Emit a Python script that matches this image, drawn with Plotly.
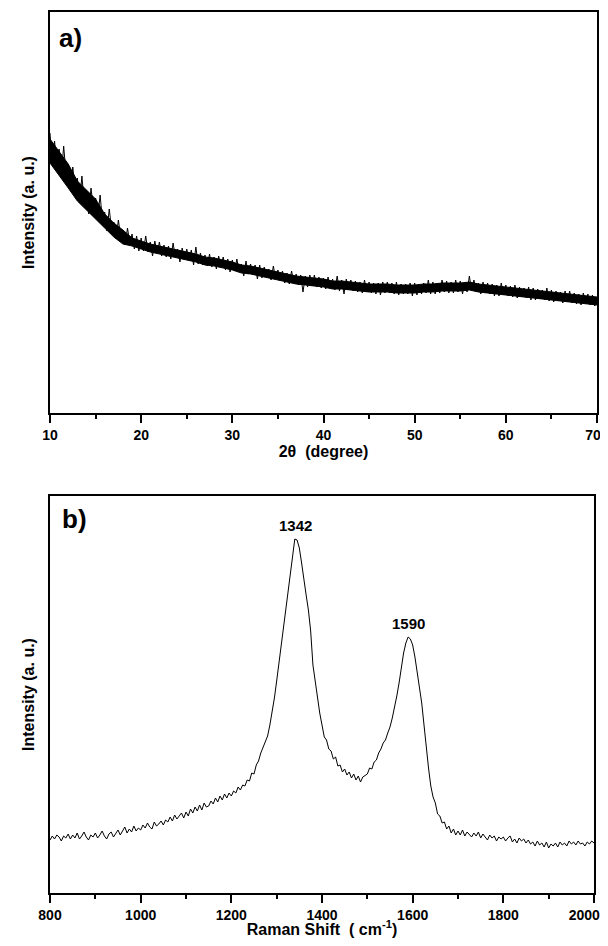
import plotly.graph_objects as go

# ---------------- data ----------------
# panel a) XRD: 2theta (degree) sampled every 0.25 degree, intensity (a. u.) read off the noisy trace
two_theta_start = 10
two_theta_step = 0.25
xrd_intensity = [
    280, 248, 272, 246, 264, 238, 267, 240, 249, 222, 246, 224,
    235, 212, 237, 210, 223, 199, 225, 204, 215, 196, 218, 192,
    201, 182, 204, 184, 191, 174, 193, 176, 183, 168, 185, 170,
    179, 164, 177, 162, 175, 162, 177, 161, 171, 157, 172, 160,
    171, 157, 168, 156, 167, 154, 170, 156, 164, 151, 165, 153,
    164, 152, 163, 148, 166, 149, 160, 148, 158, 147, 159, 146,
    156, 144, 157, 146, 156, 143, 154, 141, 153, 142, 154, 141,
    149, 137, 152, 139, 149, 138, 148, 134, 148, 135, 146, 136,
    144, 133, 147, 134, 143, 132, 142, 130, 140, 129, 142, 130,
    139, 128, 138, 121, 137, 126, 138, 127, 138, 126, 136, 125,
    135, 124, 136, 125, 134, 123, 137, 122, 133, 119, 134, 123,
    133, 122, 132, 121, 131, 120, 133, 121, 131, 120, 130, 119,
    130, 118, 131, 120, 131, 120, 130, 119, 131, 118, 129, 119,
    129, 119, 130, 117, 130, 118, 129, 119, 130, 120, 133, 119,
    131, 119, 130, 120, 133, 121, 132, 120, 131, 120, 133, 121,
    132, 119, 131, 121, 137, 122, 133, 121, 130, 119, 131, 120,
    130, 119, 129, 117, 128, 117, 130, 118, 128, 117, 127, 116,
    128, 115, 126, 116, 125, 115, 126, 113, 125, 113, 124, 114,
    123, 113, 125, 112, 123, 111, 122, 112, 121, 110, 122, 111,
    122, 110, 120, 109, 119, 108, 120, 109, 119, 108, 118, 107,
    114]
two_theta = [two_theta_start + i * two_theta_step for i in range(len(xrd_intensity))]

# dense dark core of the XRD trace, every 1 degree (upper / lower edge)
core_theta = list(range(10, 71))
core_upper = [274, 262, 249, 232, 223, 214, 199, 190, 183, 175,
              172, 169, 167, 165, 163, 161, 159, 156, 155, 153,
              151, 148, 147, 145, 143, 141, 139, 137, 136, 135,
              134, 132, 132, 131, 130, 129, 129, 129, 128, 128,
              128, 129, 129, 130, 130, 130, 131, 129, 128, 127,
              126, 125, 124, 123, 122, 121, 120, 119, 118, 117,
              116]
core_lower = [250, 238, 225, 212, 203, 194, 185, 176, 169, 167,
              164, 161, 159, 157, 155, 153, 151, 148, 147, 145,
              143, 140, 139, 137, 135, 133, 131, 129, 128, 127,
              126, 124, 124, 123, 122, 121, 121, 121, 120, 120,
              120, 121, 121, 122, 122, 122, 123, 121, 120, 119,
              118, 117, 116, 115, 114, 113, 112, 111, 110, 109,
              108]

# panel b) Raman: shift (cm-1) and intensity (a. u.)
raman_shift = list(range(800, 2001, 5))
raman_intensity = [
    53, 57, 54, 58, 56, 52, 57, 55, 59, 54,
    58, 55, 60, 54, 57, 61, 56, 53, 58, 56,
    60, 55, 58, 62, 57, 54, 59, 61, 56, 60,
    63, 58, 62, 66, 60, 64, 61, 67, 62, 65,
    63, 68, 65, 70, 66, 64, 71, 67, 69, 72,
    68, 73, 71, 76, 72, 78, 74, 77, 80, 75,
    81, 77, 84, 80, 86, 82, 88, 83, 90, 86,
    87, 92, 89, 95, 91, 97, 93, 99, 95, 100,
    97, 102, 100, 106, 103, 108, 107, 113, 112, 120,
    119, 128, 132, 140, 146, 150, 157, 168, 180, 195,
    212, 230, 250, 266, 283, 302, 321, 340, 354, 353,
    345, 330, 312, 298, 283, 262, 228, 210, 193, 180,
    168, 156, 153, 144, 142, 134, 136, 127, 128, 121,
    124, 118, 121, 115, 119, 113, 117, 111, 116, 118,
    119, 125, 124, 131, 133, 140, 144, 150, 153, 160,
    166, 175, 185, 197, 210, 225, 240, 250, 256, 254,
    248, 236, 222, 206, 190, 168, 145, 125, 107, 96,
    90, 79, 77, 70, 71, 64, 67, 60, 64, 58,
    62, 58, 63, 57, 61, 59, 56, 60, 57, 61,
    55, 59, 56, 53, 58, 55, 57, 52, 56, 54,
    56, 52, 55, 57, 51, 54, 50, 55, 52, 54,
    50, 53, 49, 51, 47, 52, 48, 50, 46, 51,
    45, 49, 47, 50, 46, 51, 48, 50, 47, 52,
    49, 51, 48, 52, 49, 50, 47, 51, 49, 52,
    50]

peak_positions = [1342, 1590]
peak_labels = ["1342", "1590"]

xrd_ticks = [10, 20, 30, 40, 50, 60, 70]
raman_ticks = [800, 1000, 1200, 1400, 1600, 1800, 2000]

# ---------------- figure ----------------
# the page body adds an 8 px margin on every side; keep the page within the window
OFF = 8
W, H = 608 - OFF, 946 - 2 * OFF
FONT = "Liberation Sans, Arial, sans-serif"
NBSP = "\u00a0"


def tick_texts(vals, pad_last):
    # the last label sits at the right edge of the page: pad it so it stays readable
    txt = [str(v) for v in vals]
    txt[-1] = txt[-1] + NBSP * pad_last
    return txt


fig = go.Figure()
fig.add_trace(go.Scatter(x=core_theta, y=core_lower, mode="lines",
                         line=dict(color="black", width=1),
                         xaxis="x", yaxis="y", hoverinfo="skip"))
fig.add_trace(go.Scatter(x=core_theta, y=core_upper, mode="lines",
                         fill="tonexty", fillcolor="black",
                         line=dict(color="black", width=1),
                         xaxis="x", yaxis="y", hoverinfo="skip"))
fig.add_trace(go.Scatter(x=two_theta, y=xrd_intensity, mode="lines",
                         line=dict(color="black", width=1),
                         xaxis="x", yaxis="y"))
fig.add_trace(go.Scatter(x=raman_shift, y=raman_intensity, mode="lines",
                         line=dict(color="black", width=1),
                         xaxis="x2", yaxis="y2"))


def px_x(p):
    return (p - OFF) / W


def px_y(p):
    return 1 - (p - OFF) / H


tickfont = dict(family=FONT, size=14, color="black", weight="bold")
titlefont = dict(family=FONT, size=16, color="black", weight="bold")

common_x = dict(showline=True, linecolor="black", linewidth=1.5, mirror=True,
                ticks="outside", ticklen=8, tickwidth=1.5, tickcolor="black",
                showgrid=False, zeroline=False, tickfont=tickfont, automargin=False,
                ticklabeloverflow="allow")
common_y = dict(showline=True, linecolor="black", linewidth=1.5, mirror=True,
                ticks="", showticklabels=False, showgrid=False, zeroline=False,
                automargin=False)

fig.update_layout(
    width=W, height=H, margin=dict(l=0, r=0, t=0, b=0),
    paper_bgcolor="white", plot_bgcolor="white", showlegend=False,
    xaxis=dict(common_x, domain=[px_x(50), px_x(597)], range=[10, 70],
               tickvals=xrd_ticks, ticktext=tick_texts(xrd_ticks, 2), anchor="y",
               minor=dict(ticks="outside", ticklen=4, tickwidth=1.5,
                          tickcolor="black", dtick=5, tick0=10),
               title=dict(text="2θ  (degree)", font=titlefont, standoff=4)),
    yaxis=dict(common_y, domain=[px_y(413), px_y(12)], range=[0, 401], anchor="x",
               title=dict(text="Intensity (a. u.)", font=titlefont, standoff=10)),
    xaxis2=dict(common_x, domain=[px_x(50), px_x(594)], range=[800, 2000],
                tickvals=raman_ticks, ticktext=tick_texts(raman_ticks, 5), anchor="y2",
                minor=dict(ticks="outside", ticklen=4, tickwidth=1.5,
                           tickcolor="black", dtick=100, tick0=800),
                title=dict(text="Raman Shift  ( cm<sup>-1</sup>)", font=titlefont, standoff=2)),
    yaxis2=dict(common_y, domain=[px_y(893), px_y(496)], range=[0, 397], anchor="x2",
                title=dict(text="Intensity (a. u.)", font=titlefont, standoff=10)),
)

# panel letters
fig.add_annotation(text="a)", xref="x domain", yref="y domain", x=0.012, y=0.978,
                   xanchor="left", yanchor="top", showarrow=False,
                   font=dict(family=FONT, size=26, color="black", weight="bold"))
fig.add_annotation(text="b)", xref="x2 domain", yref="y2 domain", x=0.018, y=0.985,
                   xanchor="left", yanchor="top", showarrow=False,
                   font=dict(family=FONT, size=26, color="black", weight="bold"))

# peak labels
for pos, lab in zip(peak_positions, peak_labels):
    idx = min(range(len(raman_shift)), key=lambda i: abs(raman_shift[i] - pos))
    fig.add_annotation(text=lab, x=pos, y=raman_intensity[idx], xref="x2", yref="y2",
                       yanchor="bottom", yshift=3, showarrow=False,
                       font=dict(family=FONT, size=15, color="black", weight="bold"))

fig.write_html("out.html")
